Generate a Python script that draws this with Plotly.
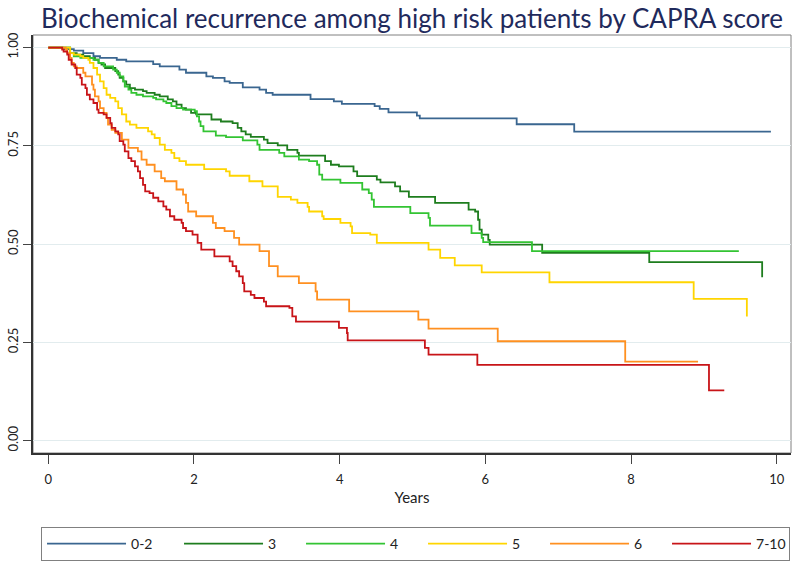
import plotly.graph_objects as go

title_text = "Biochemical recurrence among high risk patients by CAPRA score"
categories = ["0-2", "3", "4", "5", "6", "7-10"]
colors = ["#3a6690", "#1e7d1e", "#33c433", "#ffd500", "#ff9020", "#c81418"]

t_02 = [0, 0.20, 0.35, 0.48, 0.62, 0.71, 0.94, 1.07, 1.44, 1.53, 1.80, 1.89, 2.17, 2.26, 2.42, 2.49,
        2.67, 2.90, 2.99, 3.08, 3.60, 3.92, 4.03, 4.48, 4.55, 4.67, 5.06, 5.10, 6.43, 7.22, 9.92]
s_02 = [1.0, 0.996, 0.992, 0.986, 0.978, 0.974, 0.969, 0.965, 0.958, 0.952, 0.944, 0.936, 0.927, 0.923, 0.914, 0.910,
        0.899, 0.893, 0.885, 0.880, 0.869, 0.863, 0.857, 0.851, 0.844, 0.835, 0.827, 0.820, 0.805, 0.786, 0.786]

t_3 = [0, 0.30, 0.39, 0.48, 0.57, 0.64, 0.69, 0.73, 0.78, 0.92, 0.96, 0.98, 1.03, 1.07, 1.12, 1.19,
       1.30, 1.35, 1.46, 1.53, 1.64, 1.71, 1.76, 1.83, 1.89, 1.96, 2.03, 2.24, 2.37, 2.53, 2.60, 2.65,
       2.71, 2.78, 2.96, 3.01, 3.15, 3.28, 3.42, 3.44, 3.80, 3.88, 3.99, 4.19, 4.24, 4.51, 4.56, 4.76,
       4.83, 4.95, 5.31, 5.77, 5.86, 5.90, 5.92, 5.95, 6.04, 6.06, 6.78, 8.25, 9.80]
s_3 = [1.0, 0.986, 0.982, 0.978, 0.974, 0.969, 0.961, 0.957, 0.948, 0.940, 0.931, 0.923, 0.914, 0.906, 0.897, 0.893,
       0.889, 0.885, 0.880, 0.876, 0.868, 0.863, 0.855, 0.846, 0.842, 0.834, 0.830, 0.817, 0.812, 0.808, 0.796, 0.787,
       0.779, 0.773, 0.766, 0.757, 0.751, 0.740, 0.732, 0.725, 0.711, 0.702, 0.698, 0.685, 0.673, 0.664, 0.657, 0.647,
       0.634, 0.620, 0.605, 0.588, 0.583, 0.562, 0.537, 0.524, 0.511, 0.499, 0.478, 0.454, 0.416]

t_4 = [0, 0.30, 0.35, 0.44, 0.62, 0.69, 0.76, 0.89, 0.94, 0.98, 1.03, 1.05, 1.10, 1.14, 1.21, 1.30,
       1.44, 1.48, 1.58, 1.62, 1.69, 1.76, 1.85, 2.01, 2.04, 2.07, 2.09, 2.13, 2.30, 2.44, 2.67, 2.87,
       2.90, 3.17, 3.24, 3.44, 3.58, 3.69, 3.72, 3.76, 4.01, 4.31, 4.40, 4.44, 4.47, 4.97, 5.22, 5.24,
       5.81, 5.95, 5.97, 6.64, 9.48]
s_4 = [1.0, 0.986, 0.978, 0.974, 0.969, 0.961, 0.952, 0.944, 0.936, 0.927, 0.914, 0.901, 0.893, 0.885, 0.880, 0.876,
       0.872, 0.868, 0.863, 0.859, 0.851, 0.846, 0.842, 0.838, 0.825, 0.812, 0.800, 0.787, 0.776, 0.772, 0.764, 0.753,
       0.740, 0.732, 0.723, 0.715, 0.711, 0.702, 0.677, 0.664, 0.656, 0.639, 0.630, 0.613, 0.595, 0.579, 0.567, 0.547,
       0.528, 0.516, 0.505, 0.482, 0.482]

t_5 = [0, 0.30, 0.35, 0.44, 0.48, 0.55, 0.57, 0.62, 0.67, 0.71, 0.76, 0.80, 0.85, 0.92, 0.96, 1.01,
       1.07, 1.12, 1.21, 1.37, 1.42, 1.46, 1.53, 1.60, 1.69, 1.73, 1.80, 1.89, 2.14, 2.44, 2.49, 2.76,
       2.94, 3.15, 3.33, 3.42, 3.56, 3.58, 3.76, 3.78, 4.01, 4.15, 4.17, 4.42, 4.51, 5.22, 5.38, 5.58,
       5.95, 6.88, 8.86, 9.59]
s_5 = [1.0, 0.986, 0.982, 0.978, 0.974, 0.969, 0.961, 0.948, 0.931, 0.914, 0.897, 0.880, 0.872, 0.863, 0.846, 0.830,
       0.812, 0.804, 0.796, 0.787, 0.779, 0.770, 0.753, 0.740, 0.732, 0.719, 0.711, 0.702, 0.691, 0.685, 0.674, 0.660,
       0.647, 0.620, 0.613, 0.605, 0.595, 0.583, 0.571, 0.564, 0.554, 0.545, 0.528, 0.524, 0.503, 0.486, 0.465, 0.446,
       0.428, 0.403, 0.361, 0.316]

t_6 = [0, 0.24, 0.26, 0.30, 0.32, 0.35, 0.39, 0.48, 0.51, 0.60, 0.62, 0.64, 0.69, 0.71, 0.76, 0.80,
       0.82, 0.87, 0.92, 1.01, 1.10, 1.23, 1.28, 1.35, 1.46, 1.55, 1.60, 1.76, 1.85, 1.89, 1.92, 2.03,
       2.26, 2.30, 2.42, 2.55, 2.62, 2.90, 3.03, 3.15, 3.44, 3.67, 3.69, 4.13, 5.08, 5.22, 6.17, 7.92,
       8.92]
s_6 = [1.0, 0.995, 0.986, 0.974, 0.961, 0.952, 0.948, 0.936, 0.927, 0.906, 0.893, 0.876, 0.863, 0.846, 0.834, 0.821,
       0.804, 0.791, 0.783, 0.766, 0.745, 0.736, 0.715, 0.702, 0.685, 0.668, 0.660, 0.639, 0.626, 0.605, 0.583, 0.571,
       0.554, 0.541, 0.533, 0.516, 0.499, 0.482, 0.444, 0.418, 0.401, 0.380, 0.359, 0.329, 0.308, 0.285, 0.253, 0.201,
       0.201]

t_710 = [0, 0.19, 0.21, 0.26, 0.28, 0.32, 0.37, 0.39, 0.44, 0.46, 0.51, 0.53, 0.57, 0.62, 0.67, 0.69,
         0.76, 0.80, 0.85, 0.87, 0.92, 0.96, 0.98, 1.03, 1.05, 1.10, 1.14, 1.19, 1.23, 1.26, 1.30, 1.33,
         1.39, 1.44, 1.51, 1.58, 1.62, 1.67, 1.73, 1.83, 1.85, 1.89, 1.98, 2.05, 2.10, 2.28, 2.49, 2.53,
         2.58, 2.62, 2.67, 2.69, 2.78, 2.83, 2.96, 2.99, 3.31, 3.35, 3.40, 3.99, 4.10, 4.11, 5.17, 5.22,
         5.89, 9.07, 9.28]
s_710 = [1.0, 0.995, 0.990, 0.982, 0.969, 0.957, 0.948, 0.931, 0.923, 0.906, 0.897, 0.880, 0.868, 0.859, 0.842, 0.834,
         0.830, 0.821, 0.808, 0.796, 0.787, 0.779, 0.762, 0.753, 0.736, 0.719, 0.711, 0.698, 0.685, 0.668, 0.651, 0.634,
         0.630, 0.618, 0.609, 0.596, 0.588, 0.571, 0.562, 0.554, 0.541, 0.533, 0.524, 0.503, 0.486, 0.469, 0.456, 0.444,
         0.431, 0.418, 0.401, 0.380, 0.371, 0.363, 0.354, 0.342, 0.338, 0.316, 0.303, 0.287, 0.274, 0.255, 0.236, 0.219,
         0.193, 0.128, 0.128]

x_ticks = [0, 2, 4, 6, 8, 10]
y_ticks = [0, 0.25, 0.5, 0.75, 1.0]
y_ticktext = ["0.00", "0.25", "0.50", "0.75", "1.00"]

series = [(t_02, s_02), (t_3, s_3), (t_4, s_4), (t_5, s_5), (t_6, s_6), (t_710, s_710)]
for t, s in series:
    assert len(t) == len(s)

FONT = "Lato"
fig = go.Figure()
for i, (name, (t, s)) in enumerate(zip(categories, series)):
    fig.add_trace(go.Scatter(
        x=t, y=s, name=name, mode="lines",
        line=dict(color=colors[i], width=1.8, shape="hv"),
        legendwidth=43 if i == 0 else 28,
    ))

fig.add_shape(type="rect", xref="paper", yref="paper", x0=0, x1=1, y0=0, y1=1,
              line=dict(color="#808080", width=1), layer="below")

fig.update_layout(
    width=800, height=575,
    margin=dict(l=33, r=9, t=35, b=122, autoexpand=False),
    paper_bgcolor="white", plot_bgcolor="white",
    font=dict(family=FONT, size=13, color="#222222"),
    title=dict(text=title_text, x=0.5, xref="paper", xanchor="center",
               y=0.967, yref="container", yanchor="middle",
               font=dict(family=FONT, size=26, color="#1f2a5c")),
    xaxis=dict(range=[-0.21, 10.196], tickvals=x_ticks, ticks="outside", ticklen=9,
               tickcolor="#444", tickwidth=1, showline=True, linecolor="#333", linewidth=1.5,
               showgrid=False, zeroline=False, ticklabelstandoff=5, automargin=False,
               title=dict(text="Years", font=dict(family=FONT, size=15, color="#222"), standoff=6)),
    yaxis=dict(range=[-0.0313, 1.032], tickvals=y_ticks, ticktext=y_ticktext, tickangle=-90,
               ticks="outside", ticklen=8, tickcolor="#444", tickwidth=1, automargin=False,
               showline=True, linecolor="#333", linewidth=1.5,
               showgrid=True, gridcolor="#e2ecee", gridwidth=1.2, zeroline=False),
    legend=dict(orientation="h", x=0.0106, xanchor="left", y=-0.177, yanchor="top",
                bordercolor="#808080", borderwidth=1, bgcolor="white",
                itemwidth=79, font=dict(family=FONT, size=14, color="#222")),
    showlegend=True,
)

fig.write_html("out.html", config={"displayModeBar": False},
               post_script="document.body.style.margin='0';document.body.style.overflow='hidden';")
